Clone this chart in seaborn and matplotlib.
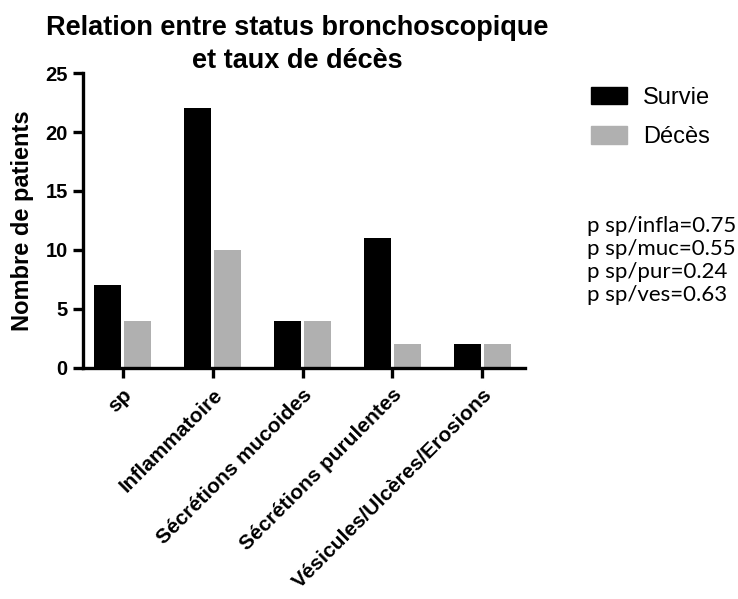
# Statut bronchoscopique vs décès (style Prism)
import pandas as pd
import numpy as np
import matplotlib
matplotlib.use("Agg")
import matplotlib.pyplot as plt
import matplotlib.patches as mpatches
import seaborn as sns

# données
categories = ["sp", "Inflammatoire", "Sécrétions mucoides",
              "Sécrétions purulentes", "Vésicules/Ulcères/Erosions"]
survie = [7, 22, 4, 11, 2]
deces = [4, 10, 4, 2, 2]
groupes = ["Survie", "Décès"]
couleurs = ["#000000", "#b0b0b0"]
titre = ["Relation entre status bronchoscopique", "et taux de décès"]
p_textes = ["p sp/infla=0.75", "p sp/muc=0.55", "p sp/pur=0.24", "p sp/ves=0.63"]

df = pd.DataFrame({
    "Statut": categories * 2,
    "Groupe": ["Survie"] * len(categories) + ["Décès"] * len(categories),
    "Patients": survie + deces,
})

sns.set_style("ticks")
plt.rcParams["font.family"] = ["Liberation Sans", "DejaVu Sans"]
for k in ["text.color", "axes.labelcolor", "xtick.color", "ytick.color", "axes.edgecolor"]:
    plt.rcParams[k] = "black"

fig = plt.figure(figsize=(7.38, 5.99), dpi=100)
ax = fig.add_axes([0.1125, 0.386, 0.5985, 0.492])

sns.barplot(data=df, x="Statut", y="Patients", hue="Groupe", hue_order=groupes,
            palette=couleurs, width=0.68, gap=0.12, saturation=1, ax=ax,
            legend=False, linewidth=0)

ax.set_xlim(-0.44, 4.47)
ax.set_ylim(0, 25)
ax.set_yticks(np.arange(0, 26, 5))
sns.despine(ax=ax)
for s in ["left", "bottom"]:
    ax.spines[s].set_linewidth(2.4)
ax.tick_params(axis="both", width=2.4, length=7.5, labelsize=14.5)
for lab in ax.get_yticklabels():
    lab.set_fontweight("bold")
ax.set_xticks(range(len(categories)))
ax.set_xticklabels(categories, rotation=45, ha="right", rotation_mode="anchor",
                   fontweight="bold", fontsize=15)
ax.tick_params(axis="x", pad=5)
ax.set_xlabel("")
ax.set_ylabel("Nombre de patients", fontsize=17, fontweight="bold", labelpad=8)

# titre sur deux lignes (deux textes séparés)
fig.text(297 / 738, 1 - 35 / 599, titre[0], fontsize=19.5, fontweight="bold",
         ha="center", va="baseline")
fig.text(297 / 738, 1 - 68 / 599, titre[1], fontsize=19.5, fontweight="bold",
         ha="center", va="baseline")

handles = [mpatches.Patch(color=c, label=g) for g, c in zip(groupes, couleurs)]
fig.legend(handles=handles, loc="upper left", bbox_to_anchor=(0.778, 0.883),
           frameon=False, fontsize=17, handlelength=1.55, handleheight=0.75,
           labelspacing=0.75, handletextpad=0.65, borderaxespad=0.3)

for i, t in enumerate(p_textes):
    fig.text(0.795, 1 - (226 + 23 * i) / 599, t, family=["Lato", "DejaVu Sans"],
             fontsize=16, va="center", ha="left")

fig.savefig("out.png", dpi=100)
